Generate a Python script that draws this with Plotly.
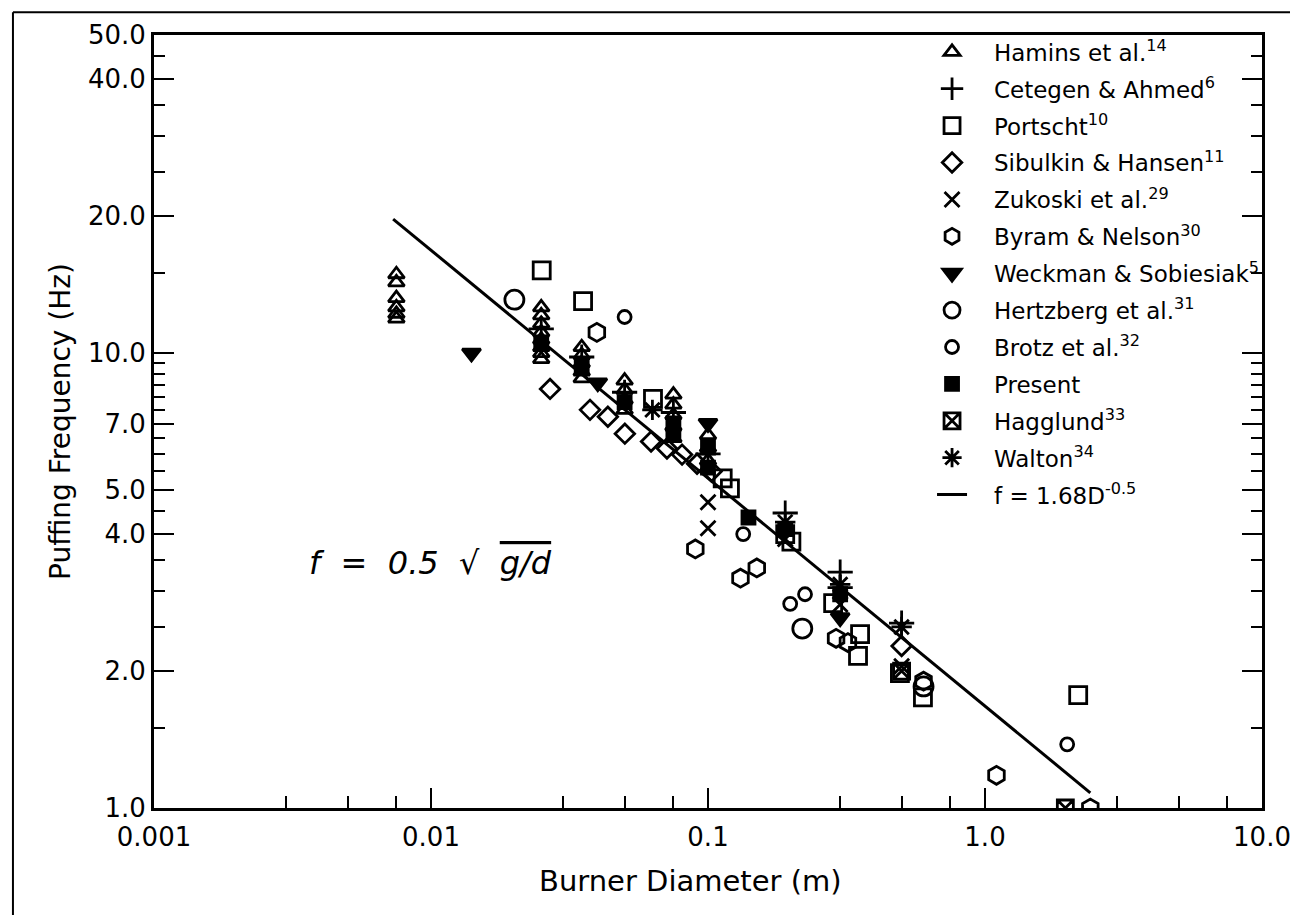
import plotly.graph_objects as go

# Burner diameter (m) and puffing frequency (Hz)
hamins_d = [0.0075, 0.0075, 0.0075, 0.0075, 0.0075, 0.0075,
            0.025, 0.025, 0.025, 0.025, 0.025, 0.025, 0.025, 0.025,
            0.035, 0.035, 0.035, 0.035, 0.035,
            0.05, 0.05, 0.05, 0.05,
            0.075, 0.075, 0.075, 0.075, 0.075,
            0.1, 0.1, 0.1]
hamins_f = [14.9, 14.3, 13.2, 12.6, 12.2, 11.9,
            12.6, 12.1, 11.6, 11.1, 10.7, 10.3, 10.0, 9.7,
            10.3, 9.9, 9.5, 9.1, 8.8,
            8.7, 8.3, 7.9, 7.5,
            8.1, 7.7, 7.3, 6.9, 6.5,
            6.6, 6.2, 5.8]

cetegen_d = [0.025, 0.035, 0.05, 0.075, 0.1, 0.19, 0.3, 0.3, 0.5]
cetegen_f = [11.3, 9.8, 8.2, 7.4, 6.0, 4.45, 3.3, 3.05, 2.55]

portscht_d = [0.0251, 0.0354, 0.0633, 0.113, 0.12, 0.19, 0.2, 0.283,
              0.354, 0.348, 0.493, 0.597, 2.17]
portscht_f = [15.2, 13.0, 7.93, 5.3, 5.04, 4.0, 3.85, 2.82,
              2.41, 2.16, 1.98, 1.75, 1.77]

sibulkin_d = [0.0269, 0.0375, 0.0435, 0.0501, 0.0623, 0.0711, 0.0806,
              0.0913, 0.103, 0.5]
sibulkin_f = [8.34, 7.5, 7.24, 6.65, 6.39, 6.17, 5.98, 5.71, 5.49, 2.27]

zukoski_d = [0.1, 0.1, 0.19, 0.3, 0.5]
zukoski_f = [4.7, 4.12, 3.9, 2.8, 2.05]

byram_d = [0.0397, 0.09, 0.131, 0.15, 0.29, 0.32, 0.6, 1.1, 2.4]
byram_f = [11.1, 3.71, 3.2, 3.37, 2.36, 2.31, 1.9, 1.18, 1.0]

weckman_d = [0.014, 0.040, 0.1, 0.3]
weckman_f = [10.0, 8.6, 7.0, 2.62]

hertzberg_d = [0.02, 0.219, 0.6]
hertzberg_f = [13.1, 2.48, 1.85]

brotz_d = [0.05, 0.134, 0.198, 0.224, 1.98]
brotz_f = [12.0, 4.0, 2.81, 2.95, 1.38]

present_d = [0.025, 0.035, 0.05, 0.075, 0.075, 0.1, 0.1, 0.14, 0.19, 0.3]
present_f = [10.5, 9.3, 7.8, 7.0, 6.6, 6.2, 5.6, 4.35, 4.1, 2.95]

hagglund_d = [1.95, 0.5]
hagglund_f = [1.0, 2.0]

walton_d = [0.063, 0.19, 0.3, 0.5]
walton_f = [7.5, 4.25, 3.1, 2.5]

# end points of the correlation line f = 1.68 D^-0.5
fit_d = [0.0073, 2.4]
fit_f = [19.7, 1.08]

x_tickvals = [0.001, 0.01, 0.1, 1, 10]
x_ticktext = ["0.001", "0.01", "0.1", "1.0", "10.0"]
x_minor = [0.003, 0.005, 0.0075, 0.03, 0.05, 0.075, 0.3, 0.5, 0.75, 3, 5, 7.5]

y_tickvals = [1, 2, 4, 5, 7, 10, 20, 40, 50]
y_ticktext = ["1.0", "2.0", "4.0", "5.0", "7.0", "10.0", "20.0", "40.0", "50.0"]
y_minor = [1.5, 2.5, 3, 3.5, 4.5, 5.5, 6, 6.5, 7.5, 8, 8.5, 9, 9.5, 15, 25, 30, 35, 45]

FONT = "DejaVu Sans"
PAD = "&nbsp;&nbsp;&nbsp;"  # pushes legend text away from the symbols like in the scan

fig = go.Figure()

# correlation line first so the markers sit on top of it
fig.add_trace(go.Scatter(
    x=fit_d, y=fit_f, mode="lines",
    name=PAD + "f = 1.68D<sup>-0.5</sup>",
    line=dict(color="black", width=3),
    legendgroup="fit", legendrank=13,
))

series = [
    ("Hamins et al.<sup>14</sup>", hamins_d, hamins_f, "triangle-up-open", 14),
    ("Cetegen & Ahmed<sup>6</sup>", cetegen_d, cetegen_f, "cross-thin-open", 18),
    ("Portscht<sup>10</sup>", portscht_d, portscht_f, "square-open", 17),
    ("Sibulkin & Hansen<sup>11</sup>", sibulkin_d, sibulkin_f, "diamond-open", 15),
    ("Zukoski et al.<sup>29</sup>", zukoski_d, zukoski_f, "x-thin-open", 15),
    ("Byram & Nelson<sup>30</sup>", byram_d, byram_f, "hexagon-open", 18),
    ("Weckman & Sobiesiak<sup>5</sup>", weckman_d, weckman_f, "triangle-down", 16),
    ("Hertzberg et al.<sup>31</sup>", hertzberg_d, hertzberg_f, "circle-open", 19),
    ("Brotz et al.<sup>32</sup>", brotz_d, brotz_f, "circle-open", 13),
    ("Present", present_d, present_f, "square", 13),
    ("Hagglund<sup>33</sup>", hagglund_d, hagglund_f, "square-x-open", 16),
    ("Walton<sup>34</sup>", walton_d, walton_f, "asterisk-open", 17),
]

for rank, (name, d, f, sym, size) in enumerate(series, 1):
    fig.add_trace(go.Scatter(
        x=d, y=f, mode="markers", name=PAD + name,
        marker=dict(symbol=sym, size=size, color="black",
                    line=dict(color="black", width=2.8)),
        legendgroup=name, legendrank=rank,
    ))

# the page body adds 8px, so margins are trimmed to land the axes where the scan has them
fig.update_layout(
    width=1298, height=915,
    margin=dict(l=146, r=44, t=18, b=115),
    plot_bgcolor="white", paper_bgcolor="white",
    font=dict(family=FONT, color="black"),
    showlegend=True,
    legend=dict(
        x=0.7022, y=1.006, xanchor="left", yanchor="top",
        font=dict(family=FONT, size=23, color="black"),
        bgcolor="rgba(0,0,0,0)", tracegroupgap=4, maxheight=1.0,
    ),
)

fig.update_xaxes(
    type="log", range=[-3, 1],
    tickvals=x_tickvals, ticktext=x_ticktext,
    ticks="inside", ticklen=20, tickwidth=2, tickcolor="black",
    minor=dict(tickvals=x_minor, ticks="inside", ticklen=12, tickwidth=2, tickcolor="black"),
    showline=True, linewidth=3, linecolor="black", mirror=True,
    showgrid=False, zeroline=False,
    tickfont=dict(family=FONT, size=26),
    ticklabelstandoff=4,
)

fig.update_yaxes(
    type="log", range=[0, 1.699],
    tickvals=y_tickvals, ticktext=y_ticktext,
    ticks="inside", ticklen=20, tickwidth=2, tickcolor="black",
    minor=dict(tickvals=y_minor, ticks="inside", ticklen=11, tickwidth=2, tickcolor="black"),
    showline=True, linewidth=3, linecolor="black", mirror="ticks",
    showgrid=False, zeroline=False,
    tickfont=dict(family=FONT, size=26),
    ticklabelstandoff=0,
    title=dict(text="Puffing Frequency (Hz)", font=dict(family=FONT, size=28), standoff=10),
)

# x title sits a little left of centre in the scan
fig.add_annotation(
    x=0.4838, y=-0.0946, xref="paper", yref="paper", showarrow=False,
    yanchor="middle",
    text="Burner Diameter (m)",
    font=dict(family=FONT, size=29, color="black"),
)

# hand-written formula placed inside the plot
fig.add_annotation(
    x=0.138, y=0.29, xref="paper", yref="paper", showarrow=False,
    xanchor="left", yanchor="bottom",
    text="<i>f  =  0.5  √  <span style='text-decoration:overline'>g/d</span></i>",
    font=dict(family=FONT, size=32, color="black"),
)

# frame of the scanned page (left and top edges)
fig.add_shape(type="line", xref="paper", yref="paper",
              x0=-0.1273, x1=-0.1273, y0=1.0294, y1=-0.16,
              line=dict(color="black", width=2))
fig.add_shape(type="line", xref="paper", yref="paper",
              x0=-0.1273, x1=1.05, y0=1.0294, y1=1.0294,
              line=dict(color="black", width=2))

fig.write_html("out.html")
